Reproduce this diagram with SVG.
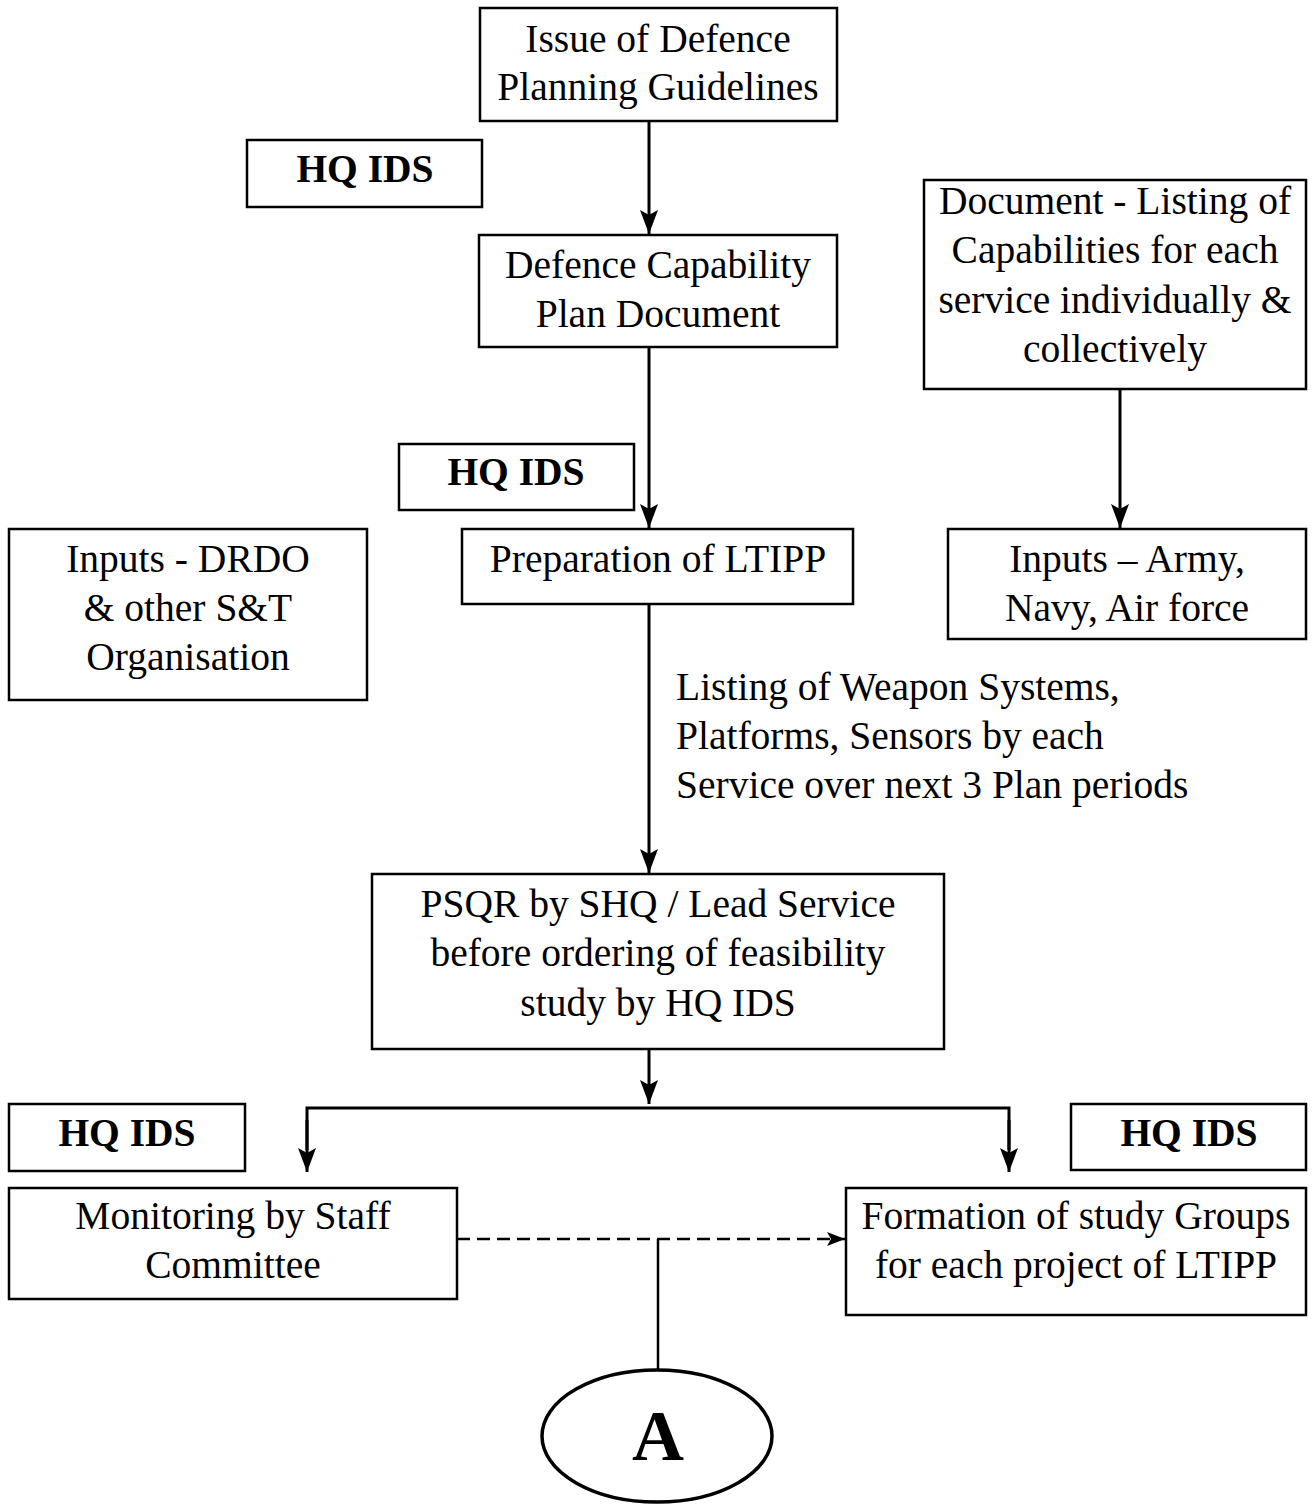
<svg xmlns="http://www.w3.org/2000/svg" width="1312" height="1505" viewBox="0 0 1312 1505">
<style>
.box{fill:#fff;stroke:#000;stroke-width:2.5}
.t{font-family:"Liberation Serif","Times New Roman",serif;font-size:39.5px;fill:#000;text-anchor:middle}
.b{font-weight:bold}
.l{text-anchor:start}
.c{fill:none;stroke:#000;stroke-width:3}
.thin{fill:none;stroke:#000;stroke-width:2.5}
</style>
<defs>
<marker id="ahd" viewBox="0 0 24 18" refX="24" refY="9" markerWidth="24" markerHeight="18" markerUnits="userSpaceOnUse" orient="auto">
<path d="M0,0 L24,9 L0,18 L5,9 Z" fill="#000"/>
</marker>
<marker id="ahs" viewBox="0 0 18 14" refX="18" refY="7" markerWidth="18" markerHeight="14" markerUnits="userSpaceOnUse" orient="auto">
<path d="M0,0 L18,7 L0,14 L4,7 Z" fill="#000"/>
</marker>
</defs>
<g id="connectors">
<line class="c" x1="649" y1="121" x2="649" y2="234" marker-end="url(#ahd)"/>
<line class="c" x1="649" y1="347" x2="649" y2="528" marker-end="url(#ahd)"/>
<line class="c" x1="1120" y1="389" x2="1120" y2="528" marker-end="url(#ahd)"/>
<line class="c" x1="649" y1="604" x2="649" y2="873" marker-end="url(#ahd)"/>
<line class="c" x1="649" y1="1049" x2="649" y2="1104" marker-end="url(#ahd)"/>
<polyline class="c" points="307,1150 307,1108 1009,1108 1009,1150"/>
<line class="c" x1="307" y1="1120" x2="307" y2="1172" marker-end="url(#ahd)"/>
<line class="c" x1="1009" y1="1120" x2="1009" y2="1172" marker-end="url(#ahd)"/>
<line class="thin" x1="457" y1="1239" x2="845" y2="1239" stroke-dasharray="13,7" marker-end="url(#ahs)"/>
<line class="thin" x1="658" y1="1239" x2="658" y2="1370"/>
</g>
<g id="n1"><rect class="box" x="480" y="8" width="357" height="113"/>
<text class="t" x="658" y="52">Issue of Defence</text><text class="t" x="658" y="100">Planning Guidelines</text></g>
<g id="n2"><rect class="box" x="247" y="140" width="235" height="67"/>
<text class="t b" x="365" y="182">HQ IDS</text></g>
<g id="n3"><rect class="box" x="479" y="235" width="358" height="112"/>
<text class="t" x="658" y="278">Defence Capability</text><text class="t" x="658" y="327">Plan Document</text></g>
<g id="n4"><rect class="box" x="924" y="180" width="382" height="209"/>
<text class="t" x="1115" y="214">Document - Listing of</text><text class="t" x="1115" y="263">Capabilities for each</text><text class="t" x="1115" y="313">service individually &amp;</text><text class="t" x="1115" y="362">collectively</text></g>
<g id="n5"><rect class="box" x="399" y="444" width="235" height="66"/>
<text class="t b" x="516" y="485">HQ IDS</text></g>
<g id="n6"><rect class="box" x="9" y="529" width="358" height="171"/>
<text class="t" x="188" y="572">Inputs - DRDO</text><text class="t" x="188" y="621">&amp; other S&amp;T</text><text class="t" x="188" y="670">Organisation</text></g>
<g id="n7"><rect class="box" x="462" y="529" width="391" height="75"/>
<text class="t" x="658" y="572">Preparation of LTIPP</text></g>
<g id="n8"><rect class="box" x="948" y="529" width="358" height="110"/>
<text class="t" x="1127" y="572">Inputs – Army,</text><text class="t" x="1127" y="621">Navy, Air force</text></g>
<g id="lbl"><text class="t l" x="676" y="700">Listing of Weapon Systems,</text><text class="t l" x="676" y="749">Platforms, Sensors by each</text><text class="t l" x="676" y="798">Service over next 3 Plan periods</text></g>
<g id="n9"><rect class="box" x="372" y="874" width="572" height="175"/>
<text class="t" x="658" y="917">PSQR by SHQ / Lead Service</text><text class="t" x="658" y="966">before ordering of feasibility</text><text class="t" x="658" y="1016">study by HQ IDS</text></g>
<g id="n10"><rect class="box" x="9" y="1104" width="236" height="67"/>
<text class="t b" x="127" y="1146">HQ IDS</text></g>
<g id="n11"><rect class="box" x="1071" y="1104" width="235" height="66"/>
<text class="t b" x="1189" y="1146">HQ IDS</text></g>
<g id="n12"><rect class="box" x="9" y="1188" width="448" height="111"/>
<text class="t" x="233" y="1229">Monitoring by Staff</text><text class="t" x="233" y="1278">Committee</text></g>
<g id="n13"><rect class="box" x="846" y="1188" width="460" height="127"/>
<text class="t" x="1076" y="1229">Formation of study Groups</text><text class="t" x="1076" y="1278">for each project of LTIPP</text></g>
<g id="n14"><ellipse cx="657" cy="1436" rx="115" ry="66" fill="#fff" stroke="#000" stroke-width="3.5"/>
<text class="t b" x="658" y="1460" style="font-size:72px">A</text></g>
</svg>
